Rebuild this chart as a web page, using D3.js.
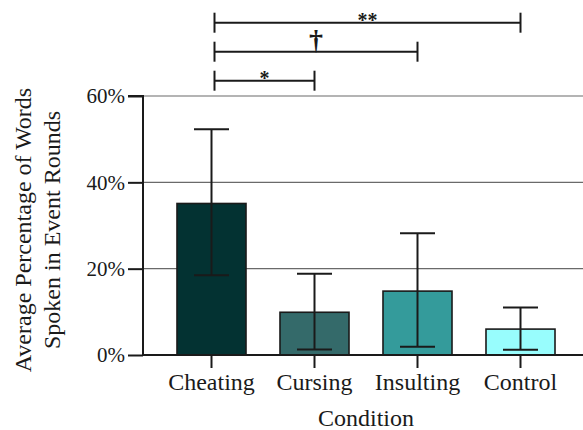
<!DOCTYPE html>
<html><head><meta charset="utf-8">
<script src="https://cdn.jsdelivr.net/npm/d3@7"></script>
<style>body{margin:0;background:#fff}svg{display:block}</style>
</head><body>
<svg id="c" width="583" height="430"></svg>
<script>
const categories = ["Cheating", "Cursing", "Insulting", "Control"];
const means = [35.1, 9.9, 14.8, 6.0];
const errLow = [18.5, 1.3, 1.9, 1.2];
const errHigh = [52.3, 18.8, 28.2, 11.0];
const colors = ["#033232", "#346a6a", "#349b9b", "#98fdfd"];
const yTicks = [0, 20, 40, 60];
const sigFrom = ["Cheating", "Cheating", "Cheating"];
const sigTo = ["Cursing", "Insulting", "Control"];
const sigLabels = ["*", "†", "**"];

const svg = d3.select("#c");
const font = "Liberation Serif";
const ink = "#1a1a1a";
const x = d3.scaleBand().domain(categories).range([160, 572]).paddingInner(0.33).paddingOuter(0.165);
const y = d3.scaleLinear().domain([0, 60]).range([355, 96]);

// gridlines
svg.append("g").selectAll("line").data(yTicks.filter(d => d > 0)).join("line")
  .attr("x1", 143).attr("x2", 583).attr("y1", d => y(d)).attr("y2", d => y(d))
  .attr("stroke", "#6a6a6a").attr("stroke-width", 1.2);

// bars
svg.append("g").selectAll("rect").data(categories).join("rect")
  .attr("x", d => x(d)).attr("width", x.bandwidth())
  .attr("y", (d, i) => y(means[i])).attr("height", (d, i) => y(0) - y(means[i]))
  .attr("fill", (d, i) => colors[i]).attr("stroke", ink).attr("stroke-width", 1.6);

// error bars
const eb = svg.append("g").attr("stroke", ink).attr("stroke-width", 2);
categories.forEach((c, i) => {
  const cx = x(c) + x.bandwidth() / 2;
  eb.append("line").attr("x1", cx).attr("x2", cx).attr("y1", y(errHigh[i])).attr("y2", y(errLow[i]));
  [errHigh[i], errLow[i]].forEach(v => {
    eb.append("line").attr("x1", cx - 17.5).attr("x2", cx + 17.5).attr("y1", y(v)).attr("y2", y(v));
  });
});

// y axis
const ya = svg.append("g").attr("transform", "translate(143,0)")
  .call(d3.axisLeft(y).tickValues(yTicks).tickFormat(d => d + "%").tickSize(15).tickPadding(3));
ya.select(".domain").attr("stroke", ink).attr("stroke-width", 2).attr("d", `M-15,${y(60)}H0V${y(0)}`);
ya.selectAll(".tick line").attr("stroke", ink).attr("stroke-width", 2);
ya.selectAll(".tick text").attr("font-family", font).attr("font-size", 21).attr("fill", ink);

// x axis
const xa = svg.append("g").attr("transform", `translate(0,${y(0)})`)
  .call(d3.axisBottom(x).tickSize(13).tickPadding(5));
xa.select(".domain").attr("stroke", ink).attr("stroke-width", 2).attr("d", "M142,0H583");
xa.selectAll(".tick line").attr("stroke", ink).attr("stroke-width", 2);
xa.selectAll(".tick text").attr("font-family", font).attr("font-size", 24).attr("fill", ink);

// axis titles
svg.append("text").attr("x", 366).attr("y", 426).attr("text-anchor", "middle")
  .attr("font-family", font).attr("font-size", 24).attr("fill", ink).text("Condition");
const yt = svg.append("text").attr("transform", "translate(0,230) rotate(-90)")
  .attr("text-anchor", "middle").attr("font-family", font).attr("font-size", 24).attr("fill", ink);
yt.append("tspan").attr("x", 0).attr("y", 31).text("Average Percentage of Words");
yt.append("tspan").attr("x", 0).attr("y", 60).text("Spoken in Event Rounds");

// significance brackets
const lineY = [80.7, 51.7, 22.7];
const sg = svg.append("g");
sigLabels.forEach((lab, i) => {
  const x1 = x(sigFrom[i]) + x.bandwidth() / 2 + 3;
  const x2 = x(sigTo[i]) + x.bandwidth() / 2;
  const ly = lineY[i];
  const g = sg.append("g").attr("stroke", ink).attr("stroke-width", 2);
  g.append("line").attr("x1", x1).attr("x2", x2).attr("y1", ly).attr("y2", ly);
  g.append("line").attr("x1", x1).attr("x2", x1).attr("y1", ly - 10).attr("y2", ly + 10);
  g.append("line").attr("x1", x2).attr("x2", x2).attr("y1", ly - 10).attr("y2", ly + 10);
  const isDagger = lab === "†";
  sg.append("text").attr("x", (x1 + x2) / 2).attr("y", isDagger ? ly - 3 : ly + 4)
    .attr("text-anchor", "middle").attr("font-family", font).attr("font-weight", "bold")
    .attr("font-size", isDagger ? 28 : 20).attr("fill", ink).text(lab);
});
</script>
</body></html>
